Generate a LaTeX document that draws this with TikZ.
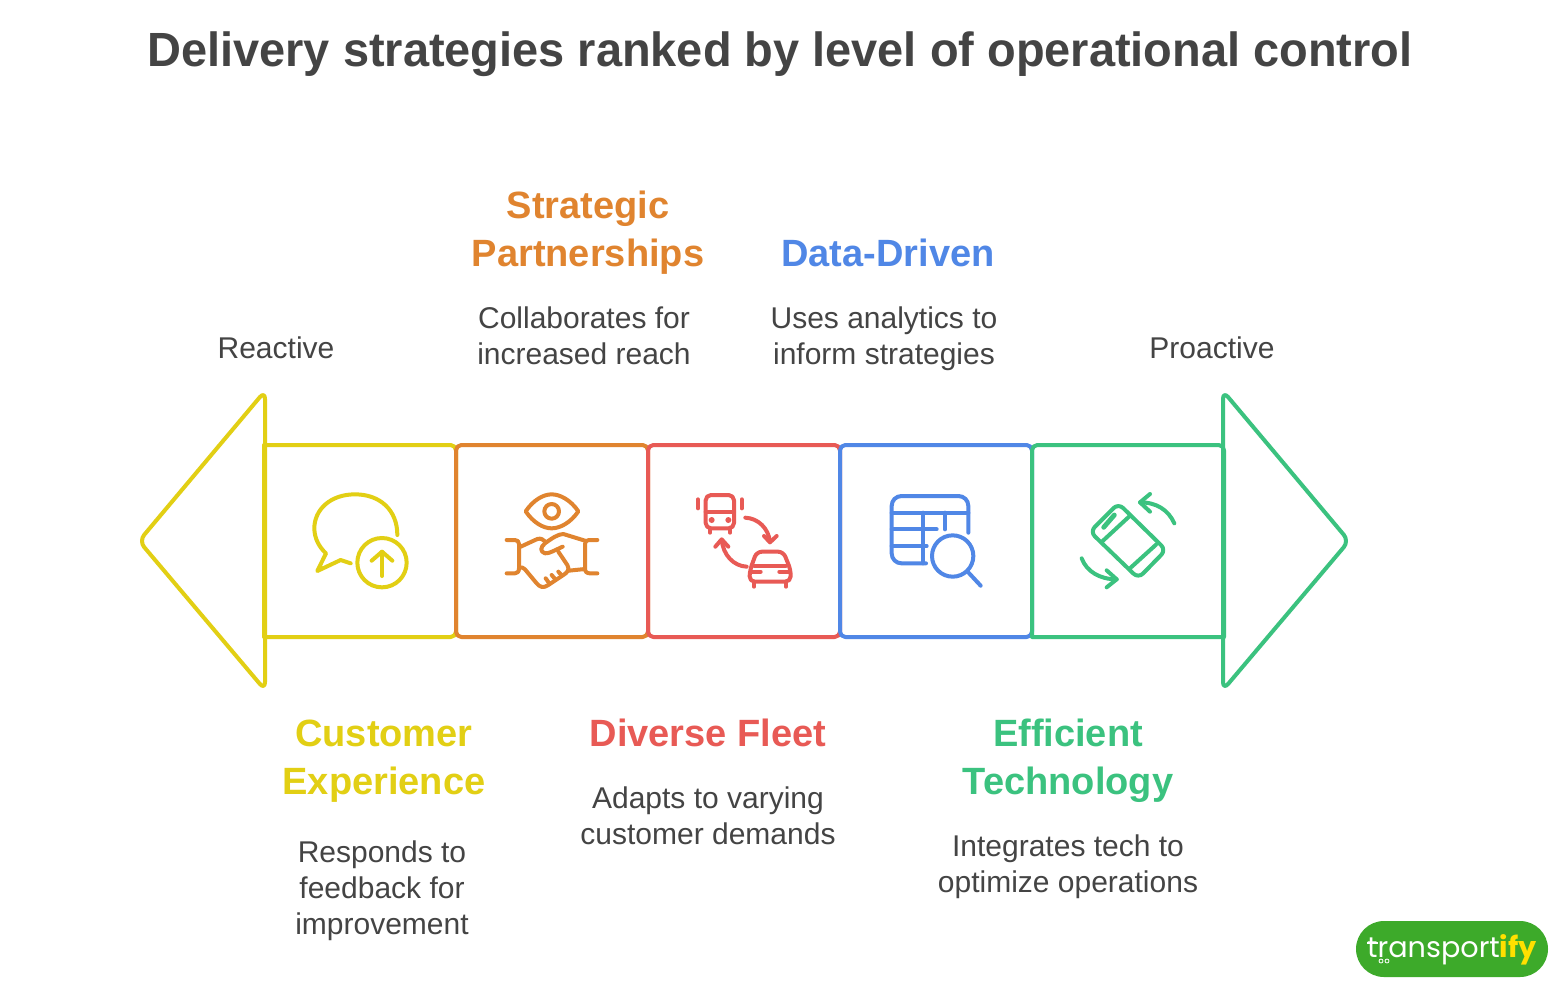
\documentclass[tikz,border=0pt]{standalone}
\usepackage{fontspec}
\setmainfont{Liberation Sans}
\newfontfamily\logofont{Poppins}
\newfontfamily\titlefont[FakeStretch=0.978]{Liberation Sans}
\usetikzlibrary{arrows.meta}
\definecolor{cY}{HTML}{E2CF14}
\definecolor{cO}{HTML}{E0842F}
\definecolor{cR}{HTML}{E85A55}
\definecolor{cB}{HTML}{5087E6}
\definecolor{cG}{HTML}{3BC27F}
\definecolor{ink}{HTML}{444444}
\definecolor{logoG}{HTML}{3DAA2A}
\definecolor{logoY}{HTML}{FFE000}
\tikzset{
  seg/.style={minimum width=144pt,minimum height=144pt,inner sep=0pt,outer sep=0pt},
  segline/.style={line width=3pt,rounded corners=4pt,line join=round},
  tipline/.style={line width=3pt,rounded corners=6pt,line join=round},
  icon/.style={line width=3pt,line cap=round,line join=round},
  head/.style={font=\fontsize{28.5}{36}\selectfont\bfseries,align=center,inner sep=0pt},
  body/.style={font=\fontsize{22.5}{27}\selectfont,text=ink,align=center,inner sep=0pt},
}
\begin{document}
\begin{tikzpicture}[x=0.75pt,y=-0.75pt]
\useasboundingbox[fill=white] (0,0) rectangle (1564,990);
\node[inner sep=0pt,text=ink,font=\titlefont\fontsize{36}{42}\selectfont\bfseries] (title) at (780,54) {Delivery strategies ranked by level of operational control};
% segments
\node[seg] (s1) at (360,541) {};
\node[seg] (s2) at (552,541) {};
\node[seg] (s3) at (744,541) {};
\node[seg] (s4) at (936,541) {};
\node[seg] (s5) at (1128,541) {};
\coordinate (la) at (265,391); \coordinate (lt) at (139,541); \coordinate (lb) at (265,690);
\coordinate (ra) at (1223,391); \coordinate (rt) at (1349,541); \coordinate (rb) at (1223,690);
\draw[tipline,cY] (la) -- (lt) -- (lb) -- cycle;
\draw[cY,line width=3pt,line join=round] (s1.north west) [rounded corners=4pt] -- (s1.north east) -- (s1.south east) [sharp corners] -- (s1.south west) -- cycle;
\draw[segline,cO] (s2.south west) rectangle (s2.north east);
\draw[segline,cR] (s3.south west) rectangle (s3.north east);
\draw[segline,cB] (s4.south west) rectangle (s4.north east);
\draw[tipline,cG] (ra) -- (rt) -- (rb) -- cycle;
\draw[cG,line width=3pt,line join=round] (s5.north east) [rounded corners=0pt] -- (s5.south east) -- (s5.south west) [rounded corners=4pt] -- (s5.north west) -- cycle;
% end labels
\node[body] (reactive) at (276,348) {Reactive};
\node[body] (proactive) at (1212,348) {Proactive};
% labels
\node[head,text=cO] (h2) at (588,233) {Strategic\\Partnerships};
\node[body] (b2) at (584,336) {Collaborates for\\increased reach};
\node[head,text=cB] (h4) at (888,253) {Data-Driven};
\node[body] (b4) at (884,339) {Uses analytics to\\inform strategies};
\node[head,text=cY] (h1) at (384,761) {Customer\\Experience};
\node[body] (b1) at (382,891) {Responds to\\feedback for\\improvement};
\node[head,text=cR] (h3) at (708,733) {Diverse Fleet};
\node[body] (b3) at (708,816) {Adapts to varying\\customer demands};
\node[head,text=cG] (h5) at (1068,761) {Efficient\\Technology};
\node[body] (b5) at (1068,867) {Integrates tech to\\optimize operations};
% icon 1: speech bubble
\begin{scope}[shift={(280,470)},x=0.25pt,y=-0.25pt,icon,cY]
\draw (352,195) .. controls (352,120) and (300,73) .. (225,73) .. controls (150,73) and (103,120) .. (103,175) .. controls (103,205) and (118,232) .. (138,250) -- (112,303) -- (182,270) -- (212,280);
\draw (306,278) circle (74);
\draw (306,318) -- (306,245);
\draw (275,272) -- (306,245) -- (337,272);
\end{scope}
% icon 2: eye and handshake
\begin{scope}[shift={(280,470)},x=0.25pt,y=-0.25pt,icon,cO]
\draw (737,124) .. controls (760,90) and (790,73) .. (815,73) .. controls (840,73) and (872,90) .. (895,124) .. controls (872,158) and (840,175) .. (815,175) .. controls (790,175) and (760,158) .. (737,124) -- cycle;
\draw (815,124) circle (22);
\draw (680,210) -- (705,210) .. controls (712,210) and (717,215) .. (717,222) -- (717,295) .. controls (717,305) and (712,310) .. (705,310) -- (680,310);
\draw (952,210) -- (930,210) .. controls (920,210) and (915,215) .. (915,225) -- (915,295) .. controls (915,305) and (920,310) .. (930,310) -- (952,310);
\draw (722,230) -- (772,207) .. controls (782,204) and (790,208) .. (796,215);
\draw (915,212) -- (850,192) .. controls (835,192) and (815,205) .. (795,220) .. controls (780,232) and (780,245) .. (795,250) .. controls (805,252) and (830,238) .. (848,230);
\draw (835,245) -- (862,285) .. controls (870,298) and (862,308) .. (850,315) -- (805,345) .. controls (790,355) and (780,352) .. (770,340) -- (735,298) .. controls (730,292) and (725,292) .. (717,292);
\draw (866,302) -- (915,297);
\draw (797,325) -- (808,340);
\draw (815,315) -- (826,328);
\draw (835,305) -- (845,316);
\end{scope}
% icon 3: bus and car
\begin{scope}[shift={(670,470)},x=0.25pt,y=-0.25pt,icon,cR]
\draw[rounded corners=4pt] (107,75) rectangle (192,175);
\draw (107,125) -- (192,125);
\fill (125,150) circle (9); \fill (175,150) circle (9);
\draw (84,88) -- (84,115); \draw (215,88) -- (215,115);
\draw (120,175) -- (120,188); \draw (180,175) -- (180,188);
\draw (226,143) .. controls (265,145) and (295,175) .. (300,215);
\draw (282,198) -- (300,217) -- (320,198);
\draw (230,290) .. controls (190,288) and (160,255) .. (155,210);
\draw (136,230) -- (155,208) -- (175,230);
\draw[rounded corners=4pt] (240,300) -- (260,245) -- (340,245) -- (362,300) -- (362,335) -- (238,335) -- cycle;
\draw (252,287) -- (348,287);
\draw (245,305) -- (272,305); \draw (328,305) -- (358,305);
\draw (252,335) -- (252,350); \draw (348,335) -- (348,350);
\end{scope}
% icon 4: table with magnifier
\begin{scope}[shift={(670,470)},x=0.25pt,y=-0.25pt,icon,cB]
\draw (768,280) -- (695,280) .. controls (678,280) and (665,267) .. (665,250) -- (665,108) .. controls (665,91) and (678,78) .. (695,78) -- (865,78) .. controls (882,78) and (895,91) .. (895,108) -- (895,188);
\draw (665,128) -- (895,128);
\draw (665,178) -- (800,178);
\draw (665,228) -- (770,228);
\draw (760,128) -- (760,280);
\draw (825,128) -- (825,178);
\draw (848,258) circle (62);
\draw (893,305) -- (932,347);
\end{scope}
% icon 5: rotating phone
\begin{scope}[shift={(1060,470)},x=0.25pt,y=-0.25pt,icon,cG]
\draw[rounded corners=5pt] (175,100) -- (318,240) -- (235,325) -- (90,185) -- cycle;
\draw (207,140) -- (128,213);
\draw (288,224) -- (212,293);
\draw[line width=3.6pt] (163,135) -- (131,172);
\draw (343,160) .. controls (325,120) and (290,97) .. (240,97);
\draw (270,72) -- (240,97) -- (270,125);
\draw (65,265) .. controls (80,305) and (120,328) .. (170,328);
\draw (140,301) -- (170,328) -- (140,352);
\end{scope}
% logo
\node[fill=logoG,rounded corners=21pt,minimum width=144pt,minimum height=42pt,inner sep=0pt] (logo) at (1452,949) {};
\node[inner sep=0pt,font=\logofont\fontsize{21.5}{24}\selectfont,text=white] (logotext) at (1452,950) {transport\textcolor{logoY}{\bfseries ify}};
\coordinate (wa) at (1381,961); \coordinate (wb) at (1387,961);
\draw[white,line width=0.6pt] (wa) circle (2) (wb) circle (2);
\coordinate (sa) at (1367,943); \coordinate (sb) at (1378,943);
\draw[white,line width=0.8pt] (sa) -- (sb);
\end{tikzpicture}
\end{document}
